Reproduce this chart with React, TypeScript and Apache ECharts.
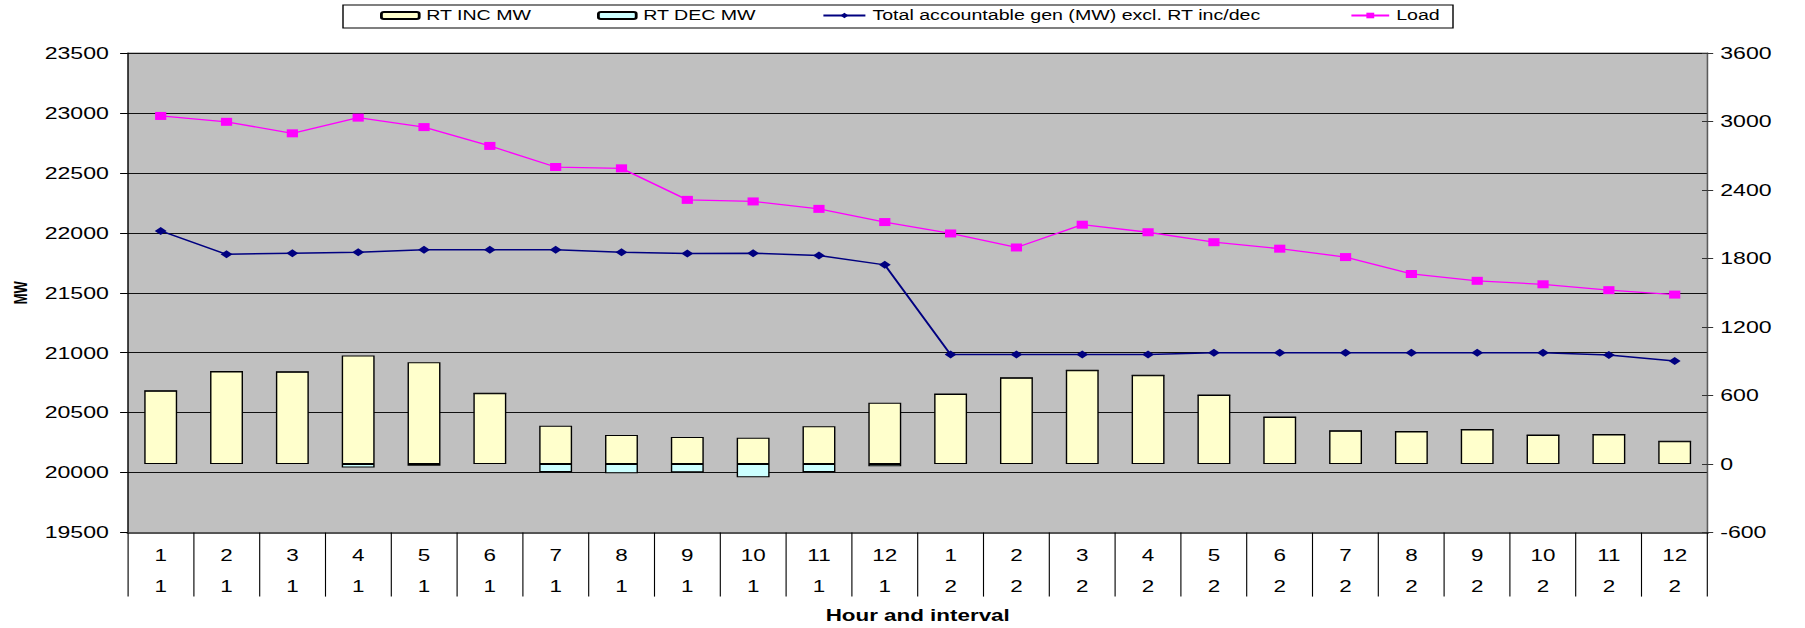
import React, { useEffect, useRef } from "react";
import * as echarts from "echarts";

// Hour / interval categories
const hours = ["1", "2", "3", "4", "5", "6", "7", "8", "9", "10", "11", "12", "1", "2", "3", "4", "5", "6", "7", "8", "9", "10", "11", "12"];
const intervals = ["1", "1", "1", "1", "1", "1", "1", "1", "1", "1", "1", "1", "2", "2", "2", "2", "2", "2", "2", "2", "2", "2", "2", "2"];

// Right axis (MW): real-time increments and decrements
const rtInc = [643, 811, 808, 952, 891, 620, 335, 254, 237, 231, 332, 537, 613, 757, 821, 778, 605, 412, 291, 286, 303, 254, 260, 199];
const rtDec = [0, 0, 0, -29, -14, 0, -69, -81, -72, -115, -69, -20, 0, 0, 0, 0, 0, 0, 0, 0, 0, 0, 0, 0];

// Left axis (MW)
const totalGen = [22016, 21821, 21830, 21838, 21860, 21860, 21860, 21838, 21827, 21830, 21812, 21733, 20985, 20985, 20985, 20985, 21000, 21000, 21000, 21000, 21000, 21000, 20982, 20932];
const load = [22975, 22926, 22830, 22961, 22882, 22725, 22549, 22538, 22275, 22262, 22200, 22090, 21995, 21878, 22068, 22005, 21922, 21868, 21798, 21657, 21600, 21571, 21522, 21485];

// Series names
const seriesNames = ["RT INC MW", "RT DEC MW", "Total accountable gen (MW) excl. RT inc/dec", "Load"];

// Left and right axis ranges
const leftMin = 19500;
const leftMax = 23500;
const leftStep = 500;
const rightMin = -600;
const rightMax = 3600;
const rightStep = 600;

const PAGE_W = 1805;
const PAGE_H = 628;
const STRETCH = 1.4; // the chart is drawn narrow and widened horizontally
const CHART_W = PAGE_W / STRETCH;

const FONT = "'Liberation Sans', Arial, Helvetica, sans-serif";
const plain = (v: number) => String(v);

// Legend entry placement (page pixels) and icon widths
const legendLeft = [380, 597, 822, 1350];
const legendIconW = [27, 27, 30, 27];

export default function App() {
  const ref = useRef<HTMLDivElement>(null);

  useEffect(() => {
    if (!ref.current) return;
    const chart = echarts.init(ref.current, undefined, { renderer: "svg" });
    const categories = hours.map((h, i) => `${h}\n${intervals[i]}`);

    const legends = seriesNames.map((name, i) => ({
      data: [name],
      left: legendLeft[i] / STRETCH,
      top: 8.5,
      padding: 0,
      itemWidth: legendIconW[i],
      itemHeight: 7,
      itemGap: 4,
      textStyle: { fontSize: 14, color: "#000", fontFamily: FONT },
    }));

    chart.setOption({
      animation: false,
      backgroundColor: "#ffffff",
      textStyle: { fontFamily: FONT, color: "#000" },
      graphic: [
        {
          type: "rect",
          z: -1,
          shape: { x: 343 / STRETCH, y: 5, width: (1453 - 343) / STRETCH, height: 23 },
          style: { fill: "#fff", stroke: "#000", lineWidth: 1 },
        },
      ],
      legend: legends,
      grid: {
        left: 127 / STRETCH,
        right: (PAGE_W - 1708) / STRETCH,
        top: 53,
        bottom: PAGE_H - 539,
        show: true,
        backgroundColor: "#C0C0C0",
        borderColor: "#808080",
        borderWidth: 1,
      },
      xAxis: {
        type: "category",
        data: categories,
        boundaryGap: true,
        axisLine: { show: true, onZero: false, lineStyle: { color: "#555", width: 2 } },
        axisTick: { show: true, interval: 0, length: 64, lineStyle: { color: "#000", width: 0.8 } },
        axisLabel: { interval: 0, margin: 7.5, lineHeight: 31, fontSize: 16, color: "#000", fontFamily: FONT },
        name: "Hour and interval",
        nameLocation: "middle",
        nameGap: 72,
        nameTextStyle: { fontWeight: "bold", fontSize: 16, color: "#000", fontFamily: FONT },
      },
      yAxis: [
        {
          type: "value",
          position: "left",
          min: leftMin,
          max: leftMax,
          interval: leftStep,
          axisLine: { show: true, lineStyle: { color: "#000", width: 0.8 } },
          axisTick: { show: true, length: 5.5, lineStyle: { color: "#000" } },
          splitLine: { show: true, lineStyle: { color: "#111", width: 1 } },
          axisLabel: { fontSize: 16.5, margin: 13.5, color: "#000", fontFamily: FONT, formatter: plain },
          name: "MW",
          nameLocation: "middle",
          nameGap: 70,
          nameTextStyle: { fontWeight: "bold", fontSize: 13, color: "#000", fontFamily: FONT },
        },
        {
          type: "value",
          position: "right",
          min: rightMin,
          max: rightMax,
          interval: rightStep,
          axisLine: { show: true, lineStyle: { color: "#555", width: 0.8 } },
          axisTick: { show: true, length: 4, lineStyle: { color: "#333" } },
          splitLine: { show: false },
          axisLabel: { fontSize: 16.5, margin: 9, color: "#000", fontFamily: FONT, formatter: plain },
        },
        {
          type: "value",
          position: "right",
          min: rightMin,
          max: rightMax,
          interval: rightStep,
          axisLine: { show: false },
          axisTick: { show: true, inside: true, length: 4, lineStyle: { color: "#333" } },
          splitLine: { show: false },
          axisLabel: { show: false },
        },
      ],
      series: [
        {
          name: seriesNames[0],
          type: "bar",
          yAxisIndex: 1,
          stack: "rt",
          barWidth: "50%",
          data: rtInc,
          itemStyle: { color: "#FFFFCC", borderColor: "#000", borderWidth: 1 },
        },
        {
          name: seriesNames[1],
          type: "bar",
          yAxisIndex: 1,
          stack: "rt",
          barWidth: "50%",
          data: rtDec,
          itemStyle: { color: "#CCFFFF", borderColor: "#000", borderWidth: 1 },
        },
        {
          name: seriesNames[2],
          type: "line",
          yAxisIndex: 0,
          data: totalGen,
          symbol: "diamond",
          symbolSize: [8.5, 8],
          itemStyle: { color: "#000080" },
          lineStyle: { color: "#000080", width: 1.5 },
        },
        {
          name: seriesNames[3],
          type: "line",
          yAxisIndex: 0,
          data: load,
          symbol: "rect",
          symbolSize: [8, 8],
          itemStyle: { color: "#FF00FF" },
          lineStyle: { color: "#FF00FF", width: 1.3 },
        },
      ],
    });

    return () => chart.dispose();
  }, []);

  return (
    <div
      style={{
        position: "fixed",
        left: 0,
        top: 0,
        width: PAGE_W,
        height: PAGE_H,
        overflow: "hidden",
        background: "#fff",
      }}
    >
      <div
        ref={ref}
        style={{
          width: CHART_W,
          height: PAGE_H,
          transform: `scaleX(${STRETCH})`,
          transformOrigin: "0 0",
        }}
      />
    </div>
  );
}
